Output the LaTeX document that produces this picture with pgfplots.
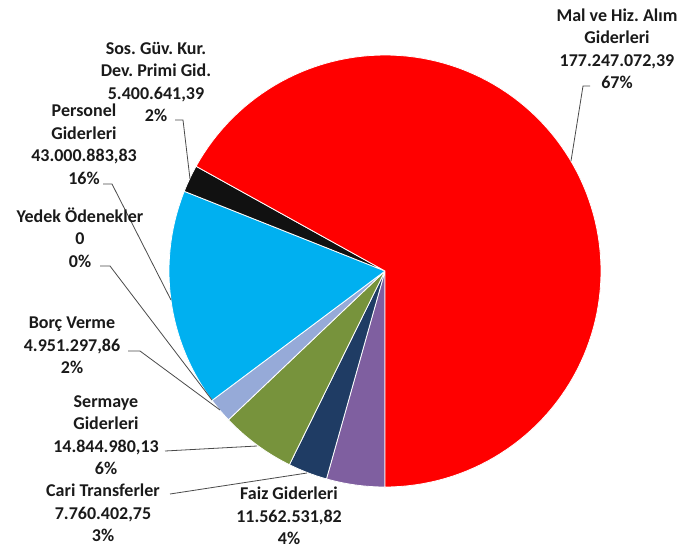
\documentclass[border=0pt]{standalone}
\usepackage{pgfplots}
\pgfplotsset{compat=1.18}
\usepackage{xfp}
\usepackage{fontspec}
\setmainfont{Carlito}
\frenchspacing
% data (TL)
\def\vFaiz{11562531.82}
\def\vCari{7760402.75}
\def\vSerm{14844980.13}
\def\vBorc{4951297.86}
\def\vYedek{0}
\def\vPers{43000883.83}
\def\vSos{5400641.39}
\def\vMal{177247072.39}
\edef\vTot{\fpeval{\vFaiz+\vCari+\vSerm+\vBorc+\vYedek+\vPers+\vSos+\vMal}}
\edef\aA{-90}
\edef\aB{\fpeval{\aA-360*\vFaiz/\vTot}}
\edef\aC{\fpeval{\aB-360*\vCari/\vTot}}
\edef\aD{\fpeval{\aC-360*\vSerm/\vTot}}
\edef\aE{\fpeval{\aD-360*\vBorc/\vTot}}
\edef\aF{\fpeval{\aE-360*\vYedek/\vTot}}
\edef\aG{\fpeval{\aF-360*\vPers/\vTot}}
\edef\aH{\fpeval{\aG-360*\vSos/\vTot}}
\edef\aI{-450}
\definecolor{cMal}{HTML}{FF0000}
\definecolor{cSos}{HTML}{111111}
\definecolor{cPers}{HTML}{00B0F0}
\definecolor{cBorc}{HTML}{96AAD8}
\definecolor{cSerm}{HTML}{77933C}
\definecolor{cCari}{HTML}{1F3C64}
\definecolor{cFaiz}{HTML}{7F5FA0}
\definecolor{cTxt}{HTML}{1A1A1A}
\definecolor{cLead}{HTML}{4A4A4A}
\tikzset{lbl/.style={align=center, text=cTxt, font=\fontsize{18}{22.5}\selectfont\bfseries\frenchspacing, inner sep=0pt}}
\pgfplotsset{wedge/.style={draw=white, line width=0.8pt, line join=round},
  lead/.style={cLead, line width=0.8pt, no marks}}
\begin{document}
\begin{tikzpicture}
\begin{axis}[hide axis, scale only axis, width=684pt, height=554pt,
  xmin=0, xmax=684, ymin=0, ymax=554, y dir=reverse, clip=false,
  every axis plot/.append style={samples=120}]
\addplot[draw=none] coordinates {(0,0) (684,554)};
\addplot[wedge, fill=cFaiz, domain=\aB:\aA] ({385+216*cos(x)},{271-216*sin(x)}) -- (axis cs:385,271) -- cycle;
\addplot[wedge, fill=cCari, domain=\aC:\aB] ({385+216*cos(x)},{271-216*sin(x)}) -- (axis cs:385,271) -- cycle;
\addplot[wedge, fill=cSerm, domain=\aD:\aC] ({385+216*cos(x)},{271-216*sin(x)}) -- (axis cs:385,271) -- cycle;
\addplot[wedge, fill=cBorc, domain=\aE:\aD] ({385+216*cos(x)},{271-216*sin(x)}) -- (axis cs:385,271) -- cycle;
\addplot[wedge, fill=cPers, domain=\aG:\aF] ({385+216*cos(x)},{271-216*sin(x)}) -- (axis cs:385,271) -- cycle;
\addplot[wedge, fill=cSos, domain=\aH:\aG] ({385+216*cos(x)},{271-216*sin(x)}) -- (axis cs:385,271) -- cycle;
\addplot[wedge, fill=cMal, domain=\aI:\aH] ({385+216*cos(x)},{271-216*sin(x)}) -- (axis cs:385,271) -- cycle;
% leader lines
\addplot[lead] coordinates {(590,86) (583,86) (571,161)};
\addplot[lead] coordinates {(175,120) (183,120) (190,179)};
\addplot[lead] coordinates {(103,184) (112,184) (171,300)};
\addplot[lead] coordinates {(100,266) (110,266) (212,400)};
\addplot[lead] coordinates {(128,351) (140,351) (220,410)};
\addplot[lead] coordinates {(165,451) (257,446)};
\addplot[lead] coordinates {(170,494) (307,473)};
% labels
\node[lbl] at (axis cs:617,49) {Mal ve Hiz. Alım\\Giderleri\\177.247.072,39\\67\%};
\node[lbl] at (axis cs:156,82) {Sos. Güv. Kur.\\Dev. Primi Gid.\\5.400.641,39\\2\%};
\node[lbl] at (axis cs:84,144.5) {Personel\\Giderleri\\43.000.883,83\\16\%};
\node[lbl] at (axis cs:80,237.5) {Yedek Ödenekler\\0\\0\%};
\node[lbl] at (axis cs:72,345.5) {Borç Verme\\4.951.297,86\\2\%};
\node[lbl] at (axis cs:106,435) {Sermaye\\Giderleri\\14.844.980,13\\6\%};
\node[lbl] at (axis cs:103,513) {Cari Transferler\\7.760.402,75\\3\%};
\node[lbl] at (axis cs:289,516) {Faiz Giderleri\\11.562.531,82\\4\%};
\end{axis}
\end{tikzpicture}
\end{document}
